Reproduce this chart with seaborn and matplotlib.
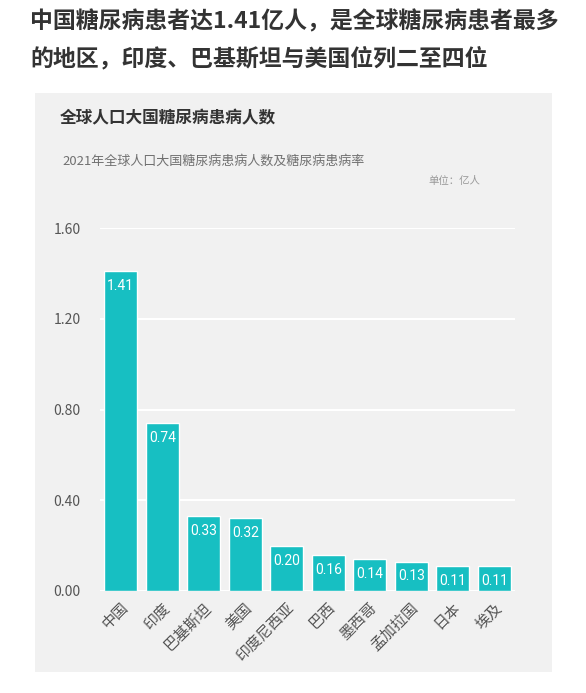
import pandas as pd
import matplotlib.pyplot as plt
import seaborn as sns
from matplotlib.patches import Rectangle

# Data
countries = ['中国', '印度', '巴基斯坦', '美国', '印度尼西亚', '巴西', '墨西哥', '孟加拉国', '日本', '埃及']
patients = [1.41, 0.74, 0.33, 0.32, 0.20, 0.16, 0.14, 0.13, 0.11, 0.11]
yticks = [0.0, 0.4, 0.8, 1.2, 1.6]

df = pd.DataFrame({'country': countries, 'patients': patients})

sns.set_style('white')
plt.rcParams['font.family'] = ['Noto Sans CJK SC', 'DejaVu Sans']

fig = plt.figure(figsize=(5.86, 6.93), dpi=100)
fig.patch.set_facecolor('white')

# Gray panel behind the chart
panel = Rectangle((35 / 586, 1 - 672 / 693), (552 - 35) / 586, (672 - 93) / 693,
                  transform=fig.transFigure, facecolor='#f1f1f1', edgecolor='none', zorder=-10)
fig.patches.append(panel)

# Headline
fig.text(30 / 586, 1 - 22 / 693, '中国糖尿病患者达1.41亿人，是全球糖尿病患者最多',
         fontsize=16.5, fontweight='bold', color='#333333', va='center', ha='left')
fig.text(30 / 586, 1 - 59 / 693, '的地区，印度、巴基斯坦与美国位列二至四位',
         fontsize=16.5, fontweight='bold', color='#333333', va='center', ha='left')

# Panel texts
fig.text(60 / 586, 1 - 118 / 693, '全球人口大国糖尿病患病人数',
         fontsize=12, fontweight='bold', color='#333333', va='center', ha='left')
fig.text(62 / 586, 1 - 161 / 693, '2021年全球人口大国糖尿病患病人数及糖尿病患病率',
         fontsize=9.4, color='#707070', va='center', ha='left')
fig.text(480 / 586, 1 - 181 / 693, '单位：亿人',
         fontsize=7.5, color='#999999', va='center', ha='right')

ax = fig.add_axes([100 / 586, 1 - 591 / 693, 415 / 586, (591 - 228) / 693])
ax.set_facecolor('none')
ax.set_zorder(5)

sns.barplot(data=df, x='country', y='patients', color='#17bfc2', width=0.8,
            saturation=1, ax=ax, zorder=3)

ax.set_ylim(0, 1.6)
ax.set_xlim(-0.5, len(countries) - 0.5)
ax.set_yticks(yticks)
ax.set_yticklabels([f'{v:.2f}' for v in yticks], fontsize=10, color='#555555')
ax.yaxis.grid(True, color='white', linewidth=1.5, zorder=0)
ax.set_axisbelow(True)
ax.tick_params(axis='y', length=0, pad=14)
ax.tick_params(axis='x', length=0, pad=7)
ax.set_xticks(range(len(countries)))
ax.set_xticklabels(countries, rotation=45, ha='right', rotation_mode='anchor',
                   fontsize=10.8, color='#555555')
ax.set_xlabel('')
ax.set_ylabel('')
for s in ax.spines.values():
    s.set_visible(False)

# Value labels inside the top of the bars
for i, v in enumerate(patients):
    ax.text(i, v - 0.035, f'{v:.2f}', ha='center', va='top', color='white',
            fontsize=10, zorder=4,
            family=['Liberation Sans Narrow', 'Roboto', 'DejaVu Sans'])

plt.savefig('out.png', dpi=100, facecolor='white')
plt.close()
